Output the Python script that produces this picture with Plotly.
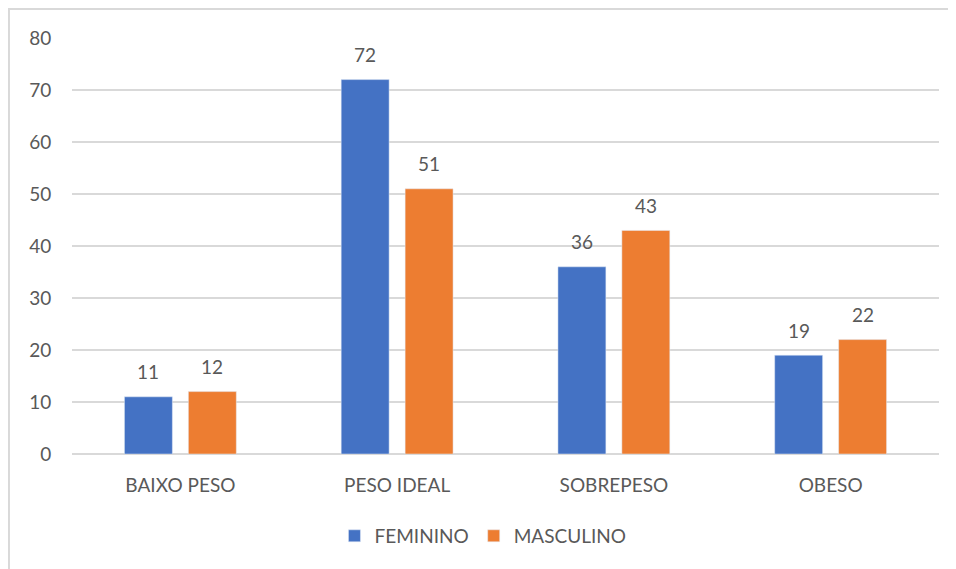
import plotly.graph_objects as go

categories = ["BAIXO PESO", "PESO IDEAL", "SOBREPESO", "OBESO"]
feminino = [11, 72, 36, 19]
masculino = [12, 51, 43, 22]
y_ticks = [0, 10, 20, 30, 40, 50, 60, 70, 80]

BLUE = "#4472C4"
ORANGE = "#ED7D31"
TEXT = "#595959"
GRID = "#D9D9D9"
FONT = "Lato, Open Sans, sans-serif"

fig = go.Figure()
fig.add_trace(go.Bar(name="FEMININO", x=categories, y=feminino, marker_color=BLUE))
fig.add_trace(go.Bar(name="MASCULINO", x=categories, y=masculino, marker_color=ORANGE))

annotations = []
for vals, shift in ((feminino, -32), (masculino, 32)):
    for c, v in zip(categories, vals):
        annotations.append(dict(x=c, y=v, text=str(v), xshift=shift, yshift=25,
                                showarrow=False, yanchor="middle",
                                font=dict(size=19, color=TEXT, family=FONT)))

fig.update_layout(
    width=948, height=561,
    margin=dict(l=64, r=17, t=30, b=115),
    paper_bgcolor="white", plot_bgcolor="white",
    barmode="group", bargap=0.41, bargroupgap=0.25,
    font=dict(family=FONT, size=19, color=TEXT),
    legend=dict(orientation="h", x=0.474, xanchor="center", y=-0.197, yanchor="middle",
                font=dict(size=19, color=TEXT), itemwidth=30, traceorder="normal"),
    annotations=annotations,
    shapes=[dict(type="rect", xref="paper", yref="paper", x0=-0.0727, x1=1.2, y0=-0.6, y1=1.0697,
                 line=dict(color=GRID, width=2), layer="below")],
)
fig.update_yaxes(range=[0, 80], tickvals=y_ticks, showgrid=True, gridcolor=GRID, gridwidth=1.5,
                 zeroline=True, zerolinecolor=GRID, zerolinewidth=2, showline=False,
                 ticks="outside", ticklen=16, tickcolor="rgba(0,0,0,0)",
                 tickfont=dict(size=19, color=TEXT))
fig.update_xaxes(showgrid=False, showline=False, ticks="outside", ticklen=14,
                 tickcolor="rgba(0,0,0,0)", tickfont=dict(size=19, color=TEXT))

fig.write_html("out.html")
